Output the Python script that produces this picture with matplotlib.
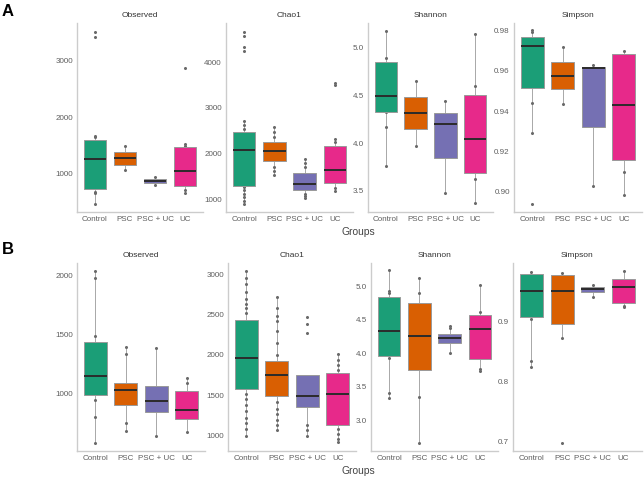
import numpy as np
import matplotlib
matplotlib.use("Agg")
import matplotlib.pyplot as plt

plt.rcParams['font.family'] = ['Liberation Sans', 'DejaVu Sans']

groups = ["Control", "PSC", "PSC + UC", "UC"]
colors = ["#1B9E77", "#D95F02", "#7570B3", "#E7298A"]

# box stats per group: [whisker low, q1, median, q3, whisker high]
a_observed = [[466, 733, 1255, 1588, 1670], [1060, 1160, 1273, 1374, 1487],
              [804, 840, 875, 911, 940], [656, 775, 1042, 1475, 1522]]
a_observed_pts = [[3510, 3421, 1670, 1640, 674, 656, 466], [1487, 1060],
                  [940, 804], [2881, 1522, 1490, 700, 656]]

a_chao1 = [[912, 1307, 2073, 2482, 2715], [1547, 1839, 2058, 2263, 2591],
           [1036, 1212, 1350, 1577, 1883], [1182, 1358, 1650, 2175, 2321]]
a_chao1_pts = [[4657, 4562, 4321, 4234, 2715, 2620, 2540, 1270, 1200, 1130, 1050, 980, 912],
               [2591, 2480, 2370, 1720, 1620, 1547],
               [1883, 1790, 1720, 1130, 1070, 1036],
               [3555, 3504, 2321, 2250, 1250, 1182]]

a_shannon = [[3.762, 4.329, 4.493, 4.843, 5.168], [3.972, 4.143, 4.311, 4.479, 4.654],
             [3.483, 3.846, 4.199, 4.315, 4.441], [3.371, 3.685, 4.038, 4.503, 5.143]]
a_shannon_pts = [[5.168, 4.89, 4.32, 4.17, 3.762], [4.654, 3.972],
                 [4.441, 3.483], [5.143, 4.60, 3.63, 3.371]]

a_simpson = [[0.9294, 0.9514, 0.9721, 0.977, 0.980], [0.9437, 0.9508, 0.9575, 0.9644, 0.9716],
             [0.9027, 0.9323, 0.9613, 0.9618, 0.9627], [0.8982, 0.916, 0.9429, 0.9681, 0.970]]
a_simpson_pts = [[0.8941, 0.9294, 0.9442, 0.980, 0.979], [0.9716, 0.9437],
                 [0.9627, 0.9027], [0.970, 0.910, 0.8982]]

b_observed = [[586, 991, 1150, 1442, 2042], [686, 904, 1034, 1093, 1399],
              [640, 847, 941, 1068, 1391], [677, 785, 861, 1028, 1130]]
b_observed_pts = [[2042, 1980, 1490, 946, 805, 586], [1399, 1340, 754, 686],
                  [1391, 640], [1130, 1090, 677]]

b_chao1 = [[992, 1575, 1967, 2433, 3050], [1063, 1492, 1746, 1929, 2721],
           [992, 1354, 1492, 1750, 1750], [917, 1125, 1517, 1779, 2012]]
b_chao1_pts = [[3050, 2960, 2880, 2780, 2700, 2640, 2580, 2520, 1520, 1450, 1380, 1300, 1220, 1150, 1080, 992],
               [2721, 2580, 2480, 2420, 2300, 2150, 2000, 1420, 1330, 1260, 1190, 1130, 1063],
               [2479, 2383, 2271, 1125, 1063, 992],
               [2012, 1937, 1875, 1812, 1083, 1021, 958, 917]]

b_shannon = [[3.325, 3.955, 4.33, 4.845, 5.24], [2.665, 3.745, 4.265, 4.75, 5.125],
             [4.01, 4.155, 4.225, 4.285, 4.415], [3.735, 3.92, 4.37, 4.575, 5.025]]
b_shannon_pts = [[5.24, 4.93, 4.90, 3.93, 3.40, 3.325], [5.125, 4.90, 3.35, 2.665],
                 [4.415, 4.38, 4.01], [5.025, 4.625, 3.76, 3.735]]

b_simpson = [[0.8244, 0.9073, 0.9504, 0.9796, 0.9835], [0.872, 0.896, 0.9504, 0.978, 0.982],
             [0.942, 0.949, 0.954, 0.958, 0.9616], [0.924, 0.9314, 0.9577, 0.9706, 0.985]]
b_simpson_pts = [[0.9835, 0.9040, 0.8345, 0.8244], [0.6978, 0.982, 0.872],
                 [0.9616, 0.942], [0.985, 0.924, 0.926]]

W, H = 644, 478
fig = plt.figure(figsize=(W / 100, H / 100), dpi=100)


def panel(rect, title, stats, pts, ylim, yticks, fmt):
    l, t, r, b = rect
    ax = fig.add_axes([l / W, 1 - b / H, (r - l) / W, (b - t) / H])
    bx = []
    for s in stats:
        bx.append(dict(whislo=s[0], q1=s[1], med=s[2], q3=s[3], whishi=s[4], fliers=[]))
    for i, p in enumerate(pts):
        ax.plot(np.full(len(p), i + 1), p, 'o', ms=1.2, color='#6a6a6a', zorder=3)
    art = ax.bxp(bx, positions=range(1, 5), widths=0.75, patch_artist=True,
                 showfliers=False, showcaps=False,
                 whiskerprops=dict(color='#a8a8a8', lw=0.7),
                 medianprops=dict(color='#2b2b2b', lw=1.4),
                 boxprops=dict(edgecolor='#9a9a9a', lw=0.7))
    for patch, c in zip(art['boxes'], colors):
        patch.set_facecolor(c)
        patch.set_zorder(4)
    for m in art['medians']:
        m.set_zorder(5)
    ax.set_xlim(0.4, 4.6)
    ax.set_ylim(*ylim)
    ax.set_yticks(yticks)
    ax.set_yticklabels([fmt % v for v in yticks])
    ax.set_xticks(range(1, 5))
    ax.set_xticklabels(groups)
    ax.tick_params(length=0, labelsize=5.8, colors='#5e5e5e', pad=3)
    for sp in ['top', 'right']:
        ax.spines[sp].set_visible(False)
    for sp in ['left', 'bottom']:
        ax.spines[sp].set_color('#cccccc')
        ax.spines[sp].set_linewidth(1.0)
    ax.set_title(title, fontsize=6, color='#333333', pad=4)
    return ax


panel((77, 23, 203, 212), "Observed", a_observed, a_observed_pts, (318, 3671), [1000, 2000, 3000], "%d")
panel((226, 23, 353, 212), "Chao1", a_chao1, a_chao1_pts, (730, 4854), [1000, 2000, 3000, 4000], "%d")
panel((368, 23, 493, 212), "Shannon", a_shannon, a_shannon_pts, (3.28, 5.255), [3.5, 4.0, 4.5, 5.0], "%.1f")
panel((514, 23, 642, 212), "Simpson", a_simpson, a_simpson_pts, (0.890, 0.9837), [0.90, 0.92, 0.94, 0.96, 0.98], "%.2f")

panel((77, 263, 205, 451), "Observed", b_observed, b_observed_pts, (516, 2108), [1000, 1500, 2000], "%d")
panel((228, 263, 356, 451), "Chao1", b_chao1, b_chao1_pts, (804, 3146), [1000, 1500, 2000, 2500, 3000], "%d")
panel((371, 263, 498, 451), "Shannon", b_shannon, b_shannon_pts, (2.54, 5.35), [3.0, 3.5, 4.0, 4.5, 5.0], "%.1f")
panel((513, 263, 642, 451), "Simpson", b_simpson, b_simpson_pts, (0.684, 0.998), [0.7, 0.8, 0.9], "%.1f")

fig.text(358 / W, 1 - 232 / H, "Groups", fontsize=7.4, color='#444444', ha='center', va='center')
fig.text(358 / W, 1 - 471 / H, "Groups", fontsize=7.4, color='#444444', ha='center', va='center')
fig.text(2 / W, 1 - 12 / H, "A", fontsize=12, fontweight='bold', ha='left', va='center')
fig.text(2 / W, 1 - 249 / H, "B", fontsize=12, fontweight='bold', ha='left', va='center')

fig.savefig("out.png", dpi=100)
